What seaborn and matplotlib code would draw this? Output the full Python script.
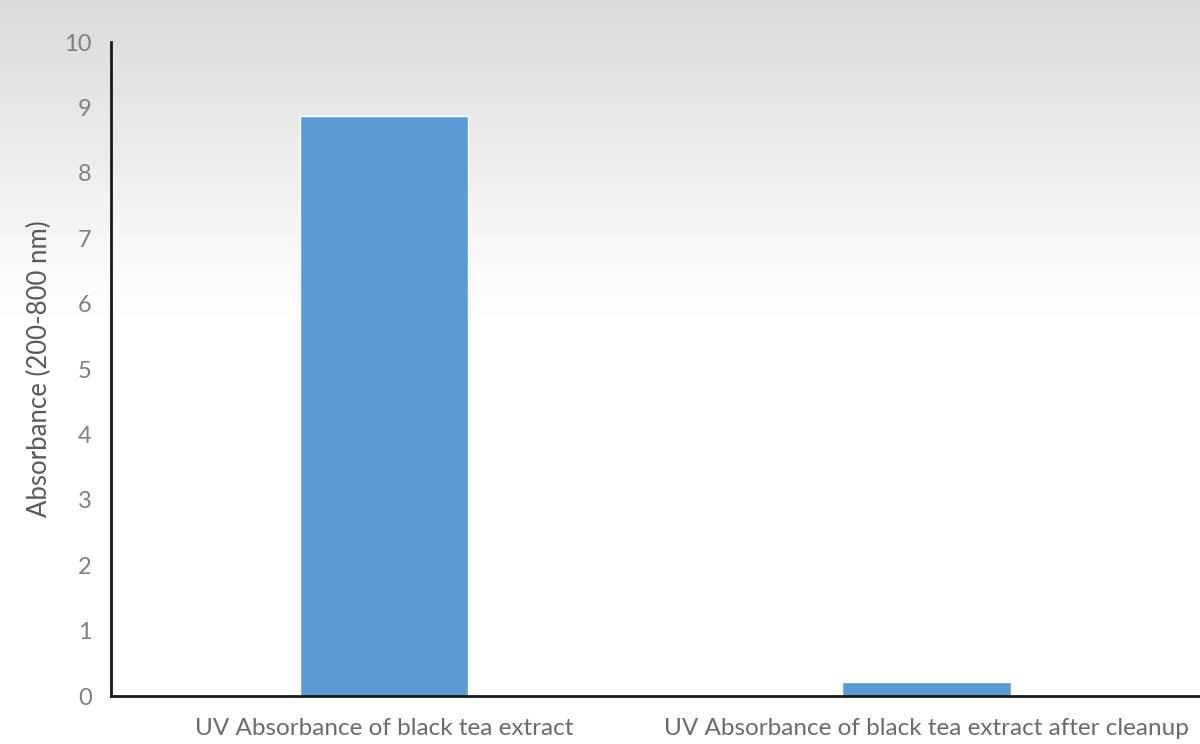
import numpy as np
import pandas as pd
import matplotlib
matplotlib.use("Agg")
import matplotlib.pyplot as plt
import seaborn as sns
from matplotlib.colors import LinearSegmentedColormap

categories = ["UV Absorbance of black tea extract",
              "UV Absorbance of black tea extract after cleanup"]
values = [8.87, 0.21]
yticks = list(range(0, 11))

sns.set_style("white")
plt.rcParams['font.family'] = ['Lato', 'DejaVu Sans']

fig = plt.figure(figsize=(12, 7.44), dpi=100)

# background gradient
bg = fig.add_axes([0, 0, 1, 1], zorder=-10)
grad = np.linspace(0, 1, 300).reshape(-1, 1)
cmap = LinearSegmentedColormap.from_list(
    "g", [(0.0, "#dadada"), (0.2, "#ececec"), (0.42, "#ffffff"), (1.0, "#ffffff")])
bg.imshow(grad, aspect="auto", cmap=cmap, extent=[0, 1, 0, 1], origin="upper")
bg.set_axis_off()

ax = fig.add_axes([0.0925, 0.0645, 0.907, 0.879])
ax.patch.set_alpha(0)
df = pd.DataFrame({"cat": categories, "val": values})
sns.barplot(data=df, x="cat", y="val", color="#5B9BD5", width=0.31,
            saturation=1, ax=ax)

ax.set_ylim(0, 10)
ax.set_xlim(-0.503, 1.503)
ax.set_yticks(yticks)
ax.set_yticklabels([str(t) for t in yticks])
ax.tick_params(axis="both", length=0, colors="#7f7f7f")
ax.tick_params(axis="y", pad=14, labelsize=17)
ax.tick_params(axis="x", pad=16, labelsize=17.5)
for lab in ax.get_xticklabels():
    lab.set_color("#6b6b6b")
ax.set_xlabel("")
ax.set_ylabel("Absorbance (200-800 nm)", fontsize=18.5, color="#595959", labelpad=9)

for s in ["top", "right"]:
    ax.spines[s].set_visible(False)
for s in ["left", "bottom"]:
    ax.spines[s].set_color("#1a1a1a")
    ax.spines[s].set_linewidth(2)

fig.savefig("out.png", dpi=100)
